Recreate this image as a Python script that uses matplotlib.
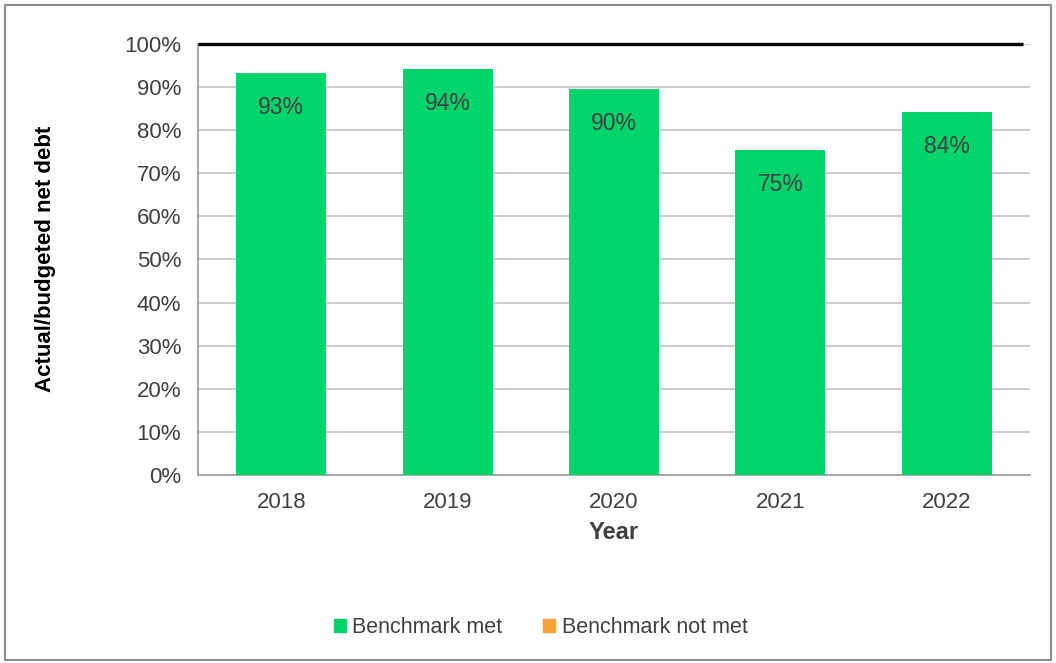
import matplotlib.pyplot as plt
import matplotlib.patches as mpatches
import numpy as np

years = ["2018", "2019", "2020", "2021", "2022"]
ratio = [93.3, 94.2, 89.6, 75.4, 84.2]
labels = ["93%", "94%", "90%", "75%", "84%"]
benchmark = 100

green = "#00d46a"
orange = "#f9a23c"
text_col = "#404040"

plt.rcParams["font.family"] = ["Liberation Sans", "DejaVu Sans"]

fig = plt.figure(figsize=(10.56, 6.63), dpi=100)
ax = fig.add_axes([0.1875, 0.2836, 0.7879, 0.65])

x = np.arange(len(years))
ax.bar(x, ratio, width=0.54, color=green, zorder=3)
for xi, v, lab in zip(x, ratio, labels):
    ax.text(xi, v - 8, lab, ha="center", va="center", fontsize=16.5, color=text_col, zorder=4)

# benchmark line
ax.plot([-0.5, 4.46], [benchmark, benchmark], color="black", linewidth=2.4, zorder=5,
        solid_capstyle="butt", clip_on=False)

ax.set_xlim(-0.5, 4.5)
ax.set_ylim(0, 100)
ax.set_yticks(range(0, 101, 10))
ax.set_yticklabels([f"{v}%" for v in range(0, 101, 10)])
ax.set_xticks(x)
ax.set_xticklabels(years)
ax.tick_params(axis="both", labelsize=16, colors=text_col, length=0)
ax.tick_params(axis="y", pad=12)
ax.tick_params(axis="x", pad=12)
ax.grid(axis="y", color="#c8c8c8", linewidth=1.3, zorder=0)

for s in ["top", "right"]:
    ax.spines[s].set_visible(False)
for s in ["left", "bottom"]:
    ax.spines[s].set_color("#a0a0a0")
    ax.spines[s].set_linewidth(1.3)

ax.set_xlabel("Year", fontsize=17, fontweight="bold", color=text_col, labelpad=6)
fig.text(0.043, 0.609, "Actual/budgeted net debt", rotation=90, ha="center", va="center",
         fontsize=16, fontweight="bold", color="black")

handles = [mpatches.Patch(color=green, label="Benchmark met"),
           mpatches.Patch(color=orange, label="Benchmark not met")]
fig.legend(handles=handles, loc="center", bbox_to_anchor=(0.512, 0.053), ncol=2,
           frameon=False, fontsize=15.5, handlelength=0.55, handleheight=0.55,
           handletextpad=0.3, columnspacing=1.9, labelcolor=text_col)

# outer border
fig.patches.append(mpatches.Rectangle((0.005, 0.005), 0.99, 0.988, transform=fig.transFigure,
                                      fill=False, edgecolor="#8c8c8c", linewidth=1.5))

fig.savefig("out.png", dpi=100)
